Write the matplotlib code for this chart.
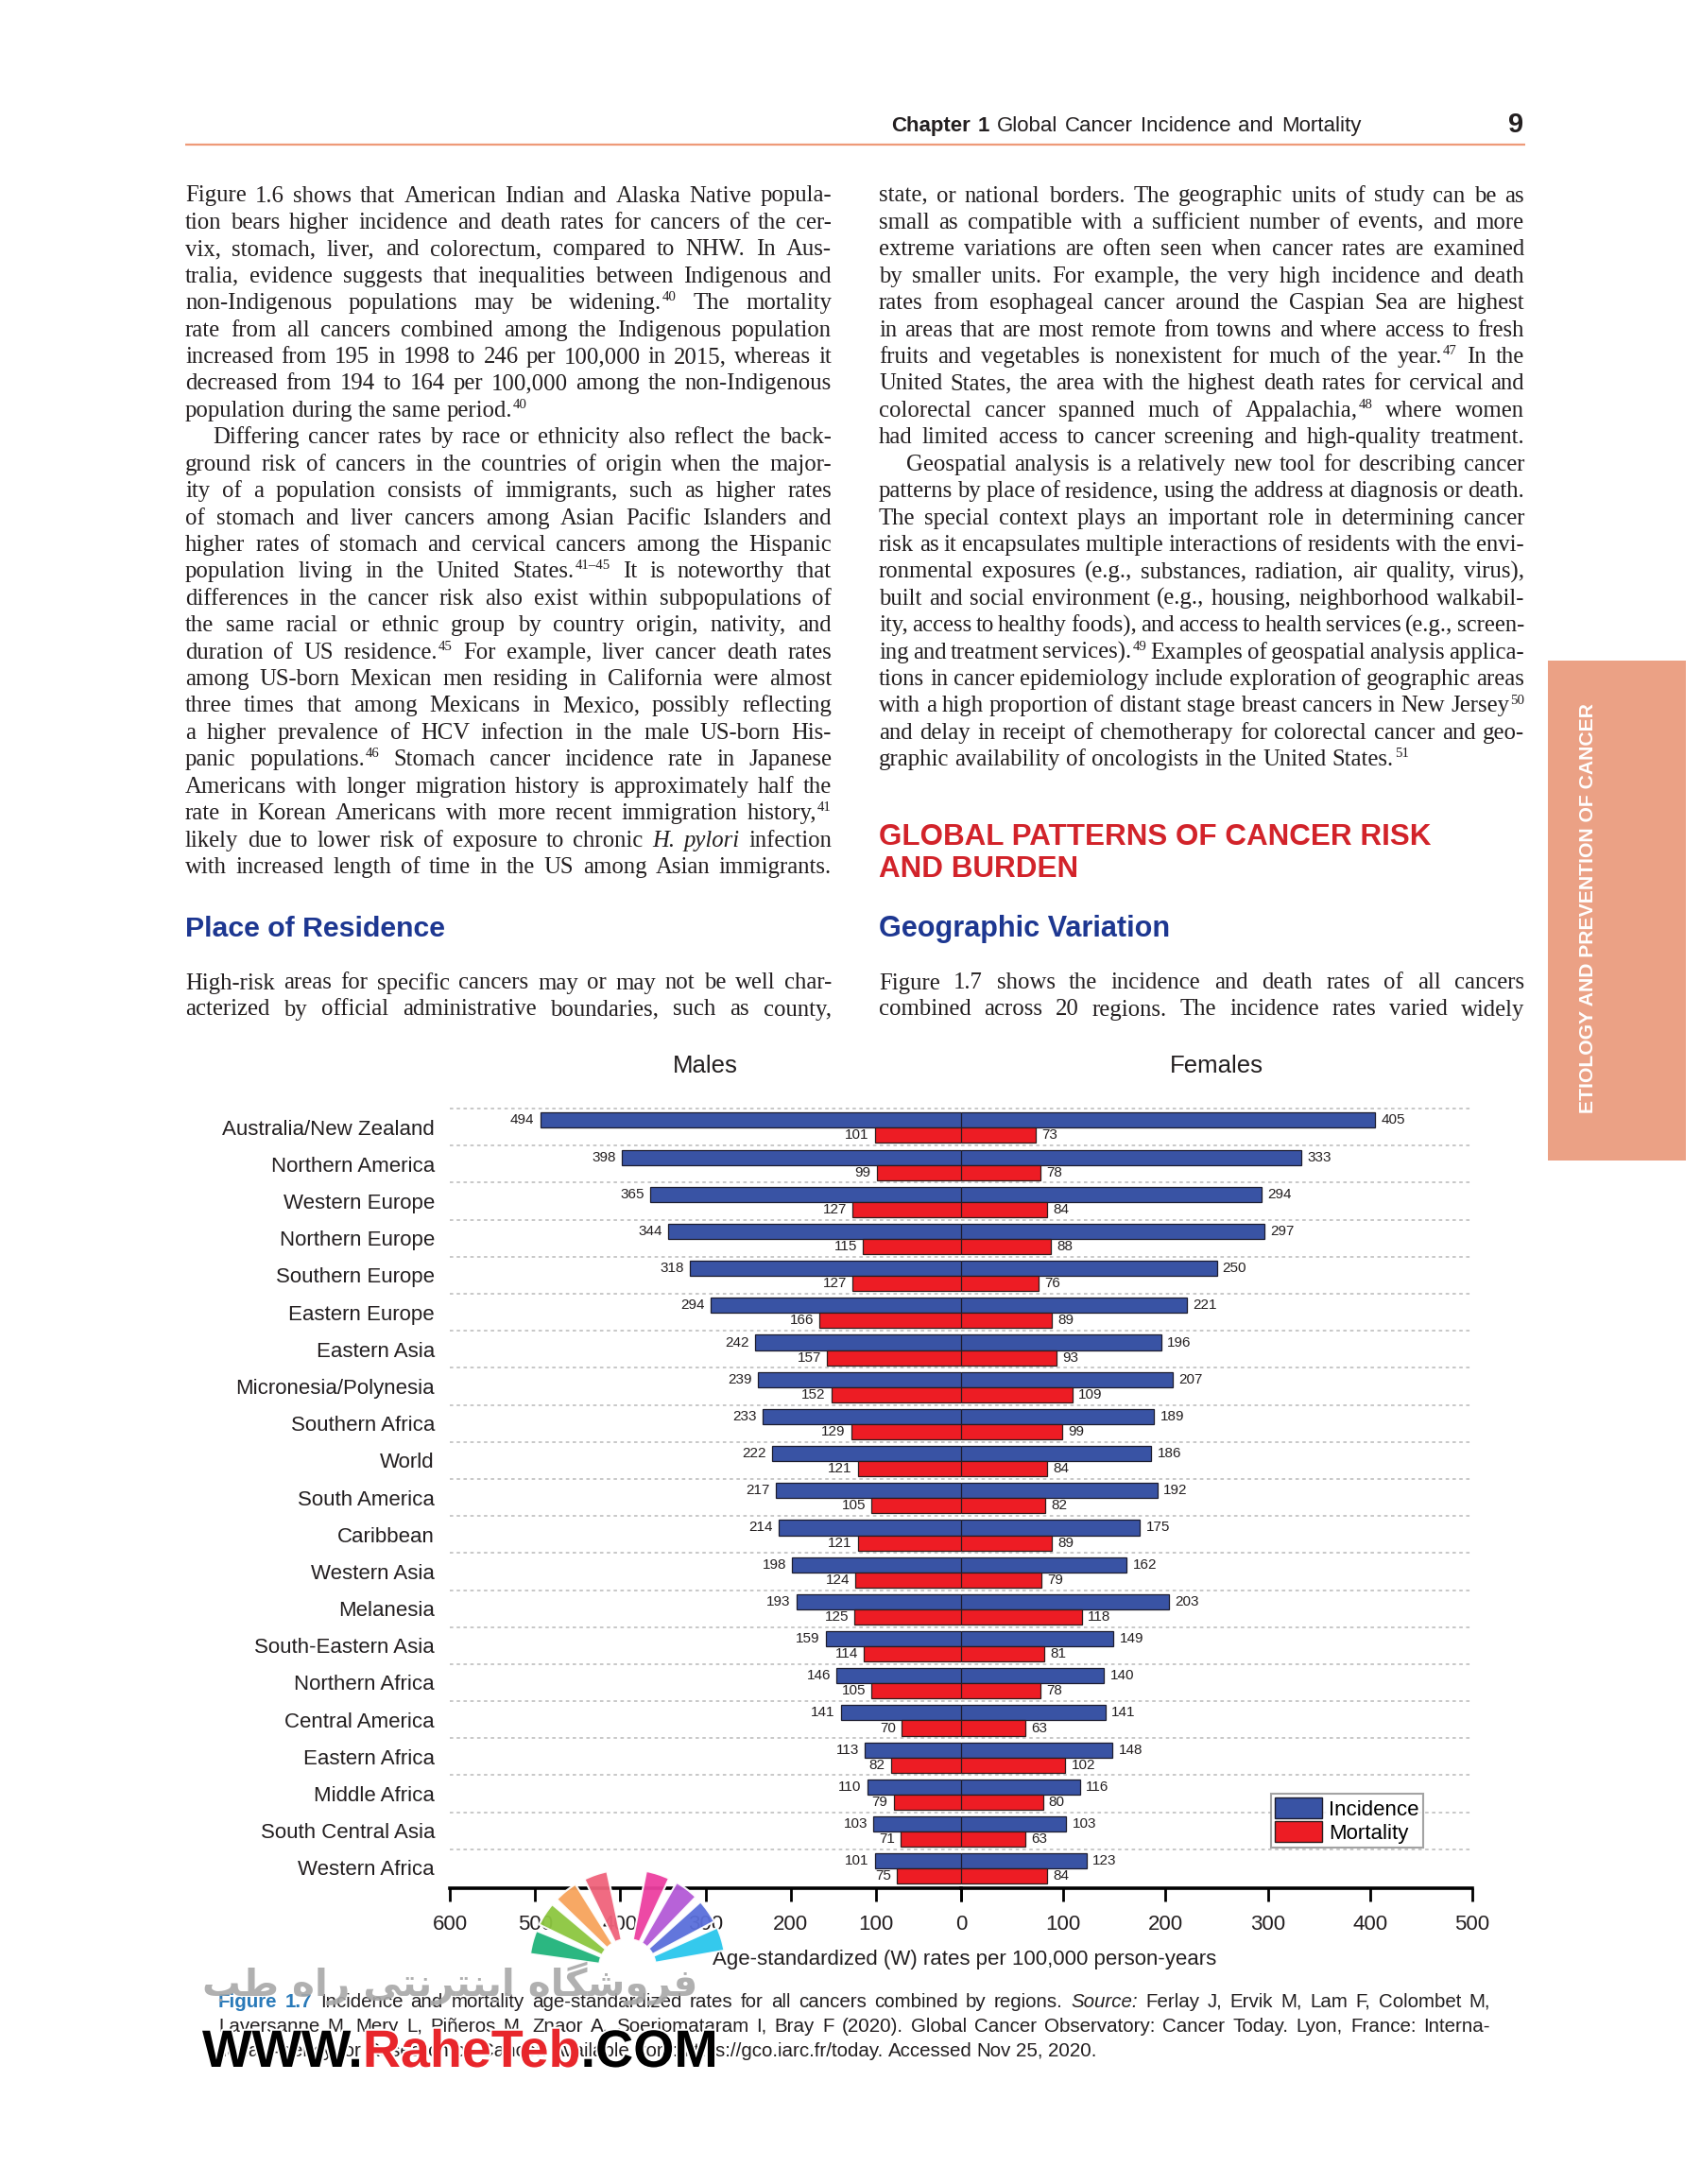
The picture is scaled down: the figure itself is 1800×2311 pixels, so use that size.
import numpy as np
import matplotlib
matplotlib.use("Agg")
import matplotlib.pyplot as plt
from matplotlib import font_manager as fm
from matplotlib.patches import Rectangle, Wedge, Patch
import matplotlib.patheffects as pe

# ---- chart data (age-standardized rates per 100,000) ----
regions = ["Australia/New Zealand", "Northern America", "Western Europe", "Northern Europe",
           "Southern Europe", "Eastern Europe", "Eastern Asia", "Micronesia/Polynesia",
           "Southern Africa", "World", "South America", "Caribbean", "Western Asia", "Melanesia",
           "South-Eastern Asia", "Northern Africa", "Central America", "Eastern Africa",
           "Middle Africa", "South Central Asia", "Western Africa"]
male_inc = [494, 398, 365, 344, 318, 294, 242, 239, 233, 222, 217, 214, 198, 193, 159, 146, 141, 113, 110, 103, 101]
male_mort = [101, 99, 127, 115, 127, 166, 157, 152, 129, 121, 105, 121, 124, 125, 114, 105, 70, 82, 79, 71, 75]
fem_inc = [405, 333, 294, 297, 250, 221, 196, 207, 189, 186, 192, 175, 162, 203, 149, 140, 141, 148, 116, 103, 123]
fem_mort = [73, 78, 84, 88, 76, 89, 93, 109, 99, 84, 82, 89, 79, 118, 81, 78, 63, 102, 80, 63, 84]
left_ticks = [600, 500, 400, 300, 200, 100, 0]
right_ticks = [0, 100, 200, 300, 400, 500]

# ---- page text ----
left_col = [
    "Figure 1.6 shows that American Indian and Alaska Native popula-",
    "tion bears higher incidence and death rates for cancers of the cer-",
    "vix, stomach, liver, and colorectum, compared to NHW. In Aus-",
    "tralia, evidence suggests that inequalities between Indigenous and",
    "non-Indigenous populations may be widening.^40 The mortality",
    "rate from all cancers combined among the Indigenous population",
    "increased from 195 in 1998 to 246 per 100,000 in 2015, whereas it",
    "decreased from 194 to 164 per 100,000 among the non-Indigenous",
    "population during the same period.^40|",
    ">Differing cancer rates by race or ethnicity also reflect the back-",
    "ground risk of cancers in the countries of origin when the major-",
    "ity of a population consists of immigrants, such as higher rates",
    "of stomach and liver cancers among Asian Pacific Islanders and",
    "higher rates of stomach and cervical cancers among the Hispanic",
    "population living in the United States.^41\u201345 It is noteworthy that",
    "differences in the cancer risk also exist within subpopulations of",
    "the same racial or ethnic group by country origin, nativity, and",
    "duration of US residence.^45 For example, liver cancer death rates",
    "among US-born Mexican men residing in California were almost",
    "three times that among Mexicans in Mexico, possibly reflecting",
    "a higher prevalence of HCV infection in the male US-born His-",
    "panic populations.^46 Stomach cancer incidence rate in Japanese",
    "Americans with longer migration history is approximately half the",
    "rate in Korean Americans with more recent immigration history,^41",
    "likely due to lower risk of exposure to chronic ~H. ~pylori infection",
    "with increased length of time in the US among Asian immigrants.",
]
right_col = [
    "state, or national borders. The geographic units of study can be as",
    "small as compatible with a sufficient number of events, and more",
    "extreme variations are often seen when cancer rates are examined",
    "by smaller units. For example, the very high incidence and death",
    "rates from esophageal cancer around the Caspian Sea are highest",
    "in areas that are most remote from towns and where access to fresh",
    "fruits and vegetables is nonexistent for much of the year.^47 In the",
    "United States, the area with the highest death rates for cervical and",
    "colorectal cancer spanned much of Appalachia,^48 where women",
    "had limited access to cancer screening and high-quality treatment.",
    ">Geospatial analysis is a relatively new tool for describing cancer",
    "patterns by place of residence, using the address at diagnosis or death.",
    "The special context plays an important role in determining cancer",
    "risk as it encapsulates multiple interactions of residents with the envi-",
    "ronmental exposures (e.g., substances, radiation, air quality, virus),",
    "built and social environment (e.g., housing, neighborhood walkabil-",
    "ity, access to healthy foods), and access to health services (e.g., screen-",
    "ing and treatment services).^49 Examples of geospatial analysis applica-",
    "tions in cancer epidemiology include exploration of geographic areas",
    "with a high proportion of distant stage breast cancers in New Jersey^50",
    "and delay in receipt of chemotherapy for colorectal cancer and geo-",
    "graphic availability of oncologists in the United States.^51|",
]
left_low = ["High-risk areas for specific cancers may or may not be well char-",
            "acterized by official administrative boundaries, such as county,"]
right_low = ["Figure 1.7 shows the incidence and death rates of all cancers",
             "combined across 20 regions. The incidence rates varied widely"]
caption = [
    "!Figure !1.7 Incidence and mortality age-standardized rates for all cancers combined by regions. ~Source: Ferlay J, Ervik M, Lam F, Colombet M,",
    "Laversanne M, Mery L, Pi\u00f1eros M, Znaor A, Soerjomataram I, Bray F (2020). Global Cancer Observatory: Cancer Today. Lyon, France: Interna-",
    "tional Agency for Research on Cancer. Available from: https://gco.iarc.fr/today. Accessed Nov 25, 2020.|",
]

W, H = 1800, 2311
INK = "#231f20"
BLUE, RED = "#3953a4", "#ed1c24"
HEADBLUE, HEADRED, CAPBLUE = "#1d3791", "#d2232a", "#2a7ab9"
ORANGE, TAB = "#ee9a78", "#eba185"

names = {f.name for f in fm.fontManager.ttflist}
SERIF = "Liberation Serif" if "Liberation Serif" in names else "DejaVu Serif"
SANS = "Liberation Sans" if "Liberation Sans" in names else "DejaVu Sans"
NARROW = "Liberation Sans Narrow" if "Liberation Sans Narrow" in names else SANS

fig = plt.figure(figsize=(W / 100, H / 100), dpi=100)
page = fig.add_axes([0, 0, 1, 1], zorder=0)
page.set_xlim(0, W); page.set_ylim(H, 0); page.axis("off")
R = fig.canvas.get_renderer()


def px(pt):
    return pt * 100 / 72


def build(ax, s, y, size, fam, color):
    groups = []
    for tok in s.split():
        kw = dict(fontsize=size, family=fam, va="baseline", color=color)
        while tok and tok[0] in "~!*":
            c, tok = tok[0], tok[1:]
            if c == "~":
                kw["style"] = "italic"
            elif c == "*":
                kw["weight"] = "bold"
            else:
                kw["weight"] = "bold"; kw["color"] = CAPBLUE
        base, _, sup = tok.partition("^")
        t = ax.text(0, y, base, **kw)
        w = t.get_window_extent(R).width
        parts = [(t, 0.0)]
        if sup:
            kw2 = dict(kw); kw2["fontsize"] = size * 0.6
            ts = ax.text(0, y - 0.36 * px(size), sup, **kw2)
            parts.append((ts, w + 1.0))
            w += 1.0 + ts.get_window_extent(R).width
        groups.append((parts, w))
    return groups


def set_line(s, x0, x1, y, size, fam, justify=True, sp=0.25, color=INK, ax=page):
    while True:
        groups = build(ax, s, y, size, fam, color)
        tot = sum(w for _, w in groups)
        n = len(groups)
        gap = (x1 - x0 - tot) / (n - 1) if (justify and n > 1) else sp * px(size)
        if gap >= 0.13 * px(size) or size < 6:
            break
        for parts, _ in groups:
            for t, _ in parts:
                t.remove()
        size *= 0.985
    x = x0
    for parts, w in groups:
        for t, dx in parts:
            t.set_x(x + dx)
        x += w + gap


def paragraph(lines, x0, x1, y0, dy, size, fam):
    for k, s in enumerate(lines):
        just = not s.endswith("|")
        s = s.rstrip("|")
        ind = 0
        if s.startswith(">"):
            s, ind = s[1:], 29
        set_line(s, x0 + ind, x1, y0 + k * dy, size, fam, justify=just)


def fit_size(s, target, fam, weight="normal", base=20, ax=page):
    t = ax.text(0, 0, s, fontsize=base, family=fam, weight=weight)
    w = t.get_window_extent(R).width
    t.remove()
    return base * target / w


# ---- running head ----
set_line("*Chapter *1 Global Cancer Incidence and Mortality", 943, 1440, 139, 16, NARROW)
page.text(1604, 140, "9", ha="center", va="baseline", fontsize=21, weight="bold", family=SANS, color=INK)
page.plot([196, 1614], [153, 153], color=ORANGE, lw=1.6, solid_capstyle="butt")

# ---- body columns ----
BODY = 17.8
paragraph(left_col, 196, 880, 213.5, 28.42, BODY, SERIF)
paragraph(right_col, 930, 1613, 213.5, 28.42, BODY, SERIF)
paragraph(left_low, 196, 880, 1046.5, 28.0, BODY, SERIF)
paragraph(right_low, 930, 1613, 1046.5, 28.0, BODY, SERIF)

# ---- headings ----
page.text(196, 991, "Place of Residence", fontsize=fit_size("Place of Residence", 276, SANS, "bold"),
          family=SANS, weight="bold", color=HEADBLUE, va="baseline")
page.text(930, 991, "Geographic Variation", fontsize=fit_size("Geographic Variation", 308, SANS, "bold"),
          family=SANS, weight="bold", color=HEADBLUE, va="baseline")
gsz = fit_size("GLOBAL PATTERNS OF CANCER RISK", 584, SANS, "bold")
page.text(930, 894, "GLOBAL PATTERNS OF CANCER RISK", fontsize=gsz, family=SANS, weight="bold",
          color=HEADRED, va="baseline")
page.text(930, 928, "AND BURDEN", fontsize=gsz, family=SANS, weight="bold", color=HEADRED, va="baseline")

# ---- side tab ----
page.add_patch(Rectangle((1638, 699), 146, 529, facecolor=TAB, edgecolor="none"))
tab_txt = "ETIOLOGY AND PREVENTION OF CANCER"
page.text(1681, 961, tab_txt, rotation=90, ha="center", va="center", color="white", weight="bold",
          family=SANS, fontsize=fit_size(tab_txt, 435, SANS, "bold"))

# ---- chart ----
ax_b, ax_h = 1 - 1998 / H, 832.8 / H
axL = fig.add_axes([476 / W, ax_b, 541 / W, ax_h], zorder=2)
axR = fig.add_axes([1017 / W, ax_b, 541 / W, ax_h], zorder=2)
y = np.arange(len(regions))
for ax, inc, mort in ((axL, male_inc, male_mort), (axR, fem_inc, fem_mort)):
    ax.patch.set_alpha(0)
    for i in y:
        ax.axhline(i - 0.5, color="#c4c4c4", lw=1.3, ls=(0, (2, 2)), zorder=0)
    ax.barh(y - 0.185, inc, height=0.41, color=BLUE, edgecolor="#1c1c2e", lw=0.9, zorder=2)
    ax.barh(y + 0.225, mort, height=0.41, color=RED, edgecolor="#2e1c1c", lw=0.9, zorder=2)
    ax.set_ylim(20.55, -0.7)
    for sp in ("top", "left", "right"):
        ax.spines[sp].set_visible(False)
    ax.spines["bottom"].set_linewidth(2.6)
    ax.spines["bottom"].set_color("black")
    ax.tick_params(axis="x", direction="out", length=10, width=2, labelsize=16, pad=10,
                   labelcolor=INK)
    sgn, ha = (-1, "right") if ax is axL else (1, "left")
    for i in y:
        ax.annotate(str(inc[i]), (inc[i], i - 0.185), xytext=(4.5 * sgn, 0), textcoords="offset points",
                    ha=ha, va="center", fontsize=11, family=SANS, color=INK)
        ax.annotate(str(mort[i]), (mort[i], i + 0.225), xytext=(4.5 * sgn, 0), textcoords="offset points",
                    ha=ha, va="center", fontsize=11, family=SANS, color=INK)

axL.set_xlim(600, 0)
axR.set_xlim(0, 500)
axL.set_xticks(left_ticks, [str(t) for t in left_ticks], family=SANS)
axR.set_xticks(right_ticks, [""] + [str(t) for t in right_ticks[1:]], family=SANS)
axL.set_yticks(y, regions, family=SANS, fontsize=16, color=INK)
axL.tick_params(axis="y", length=0, pad=11.5)
axR.set_yticks([])
axL.set_title("Males", fontsize=18.5, family=SANS, color=INK, pad=22)
axR.set_title("Females", fontsize=18.5, family=SANS, color=INK, pad=22)
page.text(1021, 2074, "Age-standardized (W) rates per 100,000 person-years", ha="center", va="center",
          fontsize=16, family=SANS, color=INK)

leg = fig.legend(handles=[Patch(facecolor=BLUE, edgecolor="#1c1c2e", label="Incidence"),
                          Patch(facecolor=RED, edgecolor="#2e1c1c", label="Mortality")],
                 loc="upper left", bbox_to_anchor=(1345 / W, 1 - 1898 / H),
                 prop={"family": SANS, "size": 16}, frameon=True, fancybox=False,
                 edgecolor="#8c8c8c", handlelength=2.25, handleheight=1.1, labelspacing=0.08,
                 handletextpad=0.3, borderpad=0.2, borderaxespad=0)
leg.get_frame().set_linewidth(1.5)

# ---- caption ----
for k, s in enumerate(caption):
    just = not s.endswith("|")
    set_line(s.rstrip("|"), 231, 1577, 2124 + k * 26, 14.8, NARROW, justify=just, sp=0.25)

# ---- watermark ----
wm = fig.add_axes([0, 0, 1, 1], zorder=10)
wm.set_xlim(0, W); wm.set_ylim(H, 0); wm.axis("off")
petals = [(-165, "#1fb37a"), (-147, "#8cc63f"), (-129, "#f7a35c"), (-109, "#f0637b"),
          (-72, "#ec3fa0"), (-53, "#b35ad6"), (-35, "#5a6fdb"), (-17, "#29c6ec")]
for ang, col in petals:
    wm.add_patch(Wedge((664, 2082), 104, ang - 7, ang + 7, width=74, facecolor=col,
                       edgecolor="white", lw=1.5, alpha=0.95))
fa = "\uFE90\uFEC3 \uFEE9\uFE8D\uFEAD \uFBFD\uFE98\uFEE7\uFEAE\uFE98\uFEE8\uFBFE\uFE8D \uFEE9\uFE8E\uFB95\uFEB7\uFEED\uFEAE\uFED3"
wm.text(214, 2112, fa, fontsize=fit_size(fa, 523, "DejaVu Sans", "bold", ax=wm), family="DejaVu Sans",
        weight="bold", color="#a8a8a8", va="baseline", alpha=0.9)
pieces = [("WWW.", "black"), ("RaheTeb", "#e8262b"), (".COM", "black")]
full = "".join(p for p, _ in pieces)
wsz = fit_size(full, 545, SANS, "bold", ax=wm)
x = 214
for s, col in pieces:
    t = wm.text(x, 2187, s, fontsize=wsz, family=SANS, weight="bold", color=col, va="baseline",
                path_effects=[pe.withStroke(linewidth=3, foreground="white")])
    x += t.get_window_extent(R).width

fig.savefig("out.png", dpi=100)
